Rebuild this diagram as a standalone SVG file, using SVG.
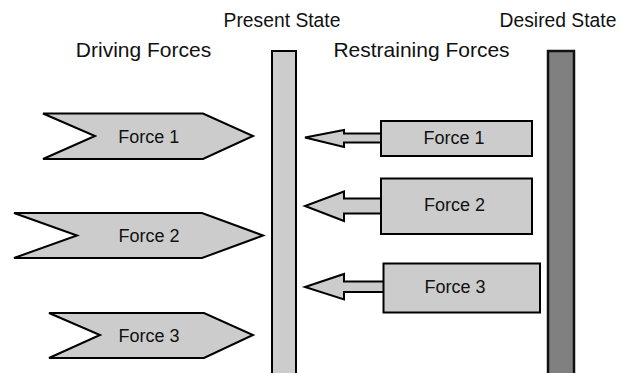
<svg xmlns="http://www.w3.org/2000/svg" width="621" height="373" viewBox="0 0 621 373">
  <style>
    .shape { fill: #cccccc; stroke: #000; stroke-width: 2; stroke-linejoin: miter; }
    .dark { fill: #808080; stroke: #111; stroke-width: 2.5; }
    .head { font-family: "Liberation Sans", Arial, sans-serif; font-size: 21px; fill: #111; text-anchor: middle; }
    .state { font-family: "Liberation Sans", Arial, sans-serif; font-size: 19.3px; fill: #111; text-anchor: middle; }
    .lbl { font-family: "Liberation Sans", Arial, sans-serif; font-size: 18px; fill: #111; text-anchor: middle; }
  </style>

  <rect width="621" height="373" fill="#fff"/>

  <!-- column headings -->
  <g id="headings">
    <text class="head" x="143.5" y="57">Driving Forces</text>
    <text class="head" x="421.5" y="57">Restraining Forces</text>
    <text class="state" x="282" y="27">Present State</text>
    <text class="state" x="558" y="27">Desired State</text>
  </g>

  <!-- block arrows pushing back on the present state -->
  <g id="connectors">
    <polygon class="shape" points="382,133.5 344,133.5 344,130 305,137.5 344,147 344,142.5 382,142.5"/>
    <polygon class="shape" points="382,198.5 344,198.5 344,191.5 305,206 344,221 344,213.5 382,213.5"/>
    <polygon class="shape" points="384,281.5 344,281.5 344,274 305,287 344,299.5 344,292 384,292"/>
  </g>

  <!-- state bars -->
  <g id="present-state">
    <rect class="shape" x="272" y="51" width="24" height="330"/>
  </g>
  <g id="desired-state">
    <rect class="dark" x="548" y="51" width="26" height="330"/>
  </g>

  <!-- driving forces -->
  <g id="drive-1">
    <polygon class="shape" points="43,113.5 203,113.5 253,136 203,159 43,159 95,136"/>
    <text class="lbl" x="148.7" y="143">Force 1</text>
  </g>
  <g id="drive-2">
    <polygon class="shape" points="14,213 202,213 263,235.5 202,258 14,258 77,235.5"/>
    <text class="lbl" x="149" y="242">Force 2</text>
  </g>
  <g id="drive-3">
    <polygon class="shape" points="49,313 204,313 253,335 204,358 49,358 100,335"/>
    <text class="lbl" x="149" y="341.5">Force 3</text>
  </g>

  <!-- restraining forces -->
  <g id="restrain-1">
    <rect class="shape" x="381" y="121" width="151" height="35"/>
    <text class="lbl" x="454" y="144">Force 1</text>
  </g>
  <g id="restrain-2">
    <rect class="shape" x="381" y="178.5" width="151" height="55.5"/>
    <text class="lbl" x="454.5" y="210.5">Force 2</text>
  </g>
  <g id="restrain-3">
    <rect class="shape" x="383.5" y="263.5" width="156.5" height="49"/>
    <text class="lbl" x="455" y="293">Force 3</text>
  </g>
</svg>
